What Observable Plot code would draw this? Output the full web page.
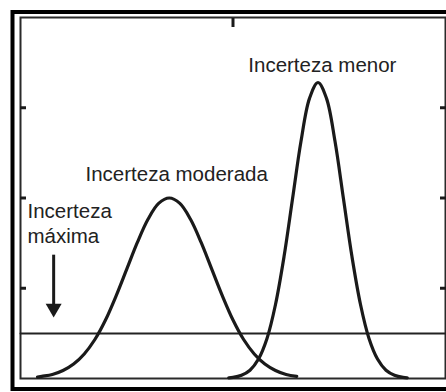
<!DOCTYPE html>
<html>
<head>
<meta charset="utf-8">
<script src="https://cdn.jsdelivr.net/npm/d3@7"></script>
<script src="https://cdn.jsdelivr.net/npm/@observablehq/plot@0.6"></script>
<style>
  html, body { margin: 0; padding: 0; background: #fff; }
</style>
</head>
<body>
<div id="chart"></div>
<script>
// Tick positions along the frame
const topTicks = [5];
const sideTicks = [0.25, 0.5, 0.75];

// Maximum uncertainty: flat density over the whole range
const maximaX = [0, 10];
const maximaY = [0.125, 0.125];

// Moderate uncertainty: wide bell curve
const moderadaX = [0.4, 0.5, 0.75, 1.0, 1.25, 1.5, 1.75, 2.0, 2.25, 2.5, 2.75, 3.0, 3.25, 3.5,
                   3.75, 4.0, 4.25, 4.5, 4.75, 5.0, 5.25, 5.5, 5.75, 6.0, 6.25, 6.5];
const moderadaY = [0.004, 0.006, 0.011, 0.022, 0.040, 0.068, 0.108, 0.162, 0.229, 0.303, 0.377, 0.441, 0.485, 0.500,
                   0.485, 0.441, 0.377, 0.303, 0.229, 0.162, 0.108, 0.068, 0.040, 0.022, 0.011, 0.006];

// Lower uncertainty: narrow, tall bell curve
const menorX = [4.9, 5.0, 5.2, 5.4, 5.6, 5.8, 6.0, 6.2, 6.4, 6.6, 6.8, 7.0,
                7.2, 7.4, 7.6, 7.8, 8.0, 8.2, 8.4, 8.6, 8.8, 9.0, 9.1];
const menorY = [0.002, 0.003, 0.009, 0.023, 0.054, 0.111, 0.205, 0.337, 0.497, 0.657, 0.776, 0.820,
                0.776, 0.657, 0.497, 0.337, 0.205, 0.111, 0.054, 0.023, 0.009, 0.003, 0.002];

// Labels
const labelText = ["Incerteza menor", "Incerteza moderada", "Incerteza\nmáxima"];
const labelX = [5.36, 1.53, 0.165];
const labelY = [0.85, 0.546, 0.374];

// Arrow pointing down at the flat line
const arrowX = [0.78];
const arrowTop = [0.343];
const arrowBase = [0.205];
const arrowHead = [0.1945];

const toRows = (xs, ys) => xs.map((x, i) => ({x, y: ys[i]}));
const labels = labelText.map((t, i) => ({t, x: labelX[i], y: labelY[i]}));
const arrows = arrowX.map((x, i) => ({x, y1: arrowTop[i], y2: arrowBase[i], yh: arrowHead[i]}));

const ink = "#1a1a1a";

const chart = Plot.plot({
  width: 446,
  height: 392,
  marginLeft: 20,
  marginRight: 1,
  marginTop: 17,
  marginBottom: 14,
  x: {domain: [0, 10]},
  y: {domain: [0, 1]},
  style: {background: "#fff", fontFamily: "'Liberation Sans', Arial, sans-serif", color: ink},
  marks: [
    // outer heavy border and inner plot frame
    Plot.frame({stroke: "#000", strokeWidth: 4, insetLeft: -8, insetTop: -5.5, insetBottom: -10.5, insetRight: -6}),
    Plot.frame({stroke: "#2a2a2a", strokeWidth: 2}),
    // inward ticks
    Plot.axisY({anchor: "left", ticks: sideTicks, tickSize: -6, strokeWidth: 3, stroke: ink, fill: "none", label: null}),
    Plot.axisY({anchor: "right", ticks: sideTicks, tickSize: -6, strokeWidth: 3, stroke: ink, fill: "none", label: null}),
    Plot.axisX({anchor: "top", ticks: topTicks, tickSize: -9, strokeWidth: 3, stroke: ink, fill: "none", label: null}),
    // curves
    Plot.line(toRows(maximaX, maximaY), {x: "x", y: "y", stroke: "#222", strokeWidth: 2}),
    Plot.line(toRows(moderadaX, moderadaY), {x: "x", y: "y", stroke: ink, strokeWidth: 3.2, curve: "catmull-rom"}),
    Plot.line(toRows(menorX, menorY), {x: "x", y: "y", stroke: ink, strokeWidth: 3.2, curve: "catmull-rom"}),
    // arrow
    Plot.link(arrows, {x1: "x", x2: "x", y1: "y1", y2: "y2", stroke: ink, strokeWidth: 3}),
    Plot.dot(arrows, {x: "x", y: "yh", symbol: "triangle", rotate: 180, r: 5.94, fill: ink, stroke: "none"}),
    // labels
    Plot.text(labels, {x: "x", y: "y", text: "t", textAnchor: "start", lineAnchor: "bottom",
      lineHeight: 1.22, fontSize: 20.5, fill: "#222"})
  ]
});

document.getElementById("chart").append(chart);
</script>
</body>
</html>
